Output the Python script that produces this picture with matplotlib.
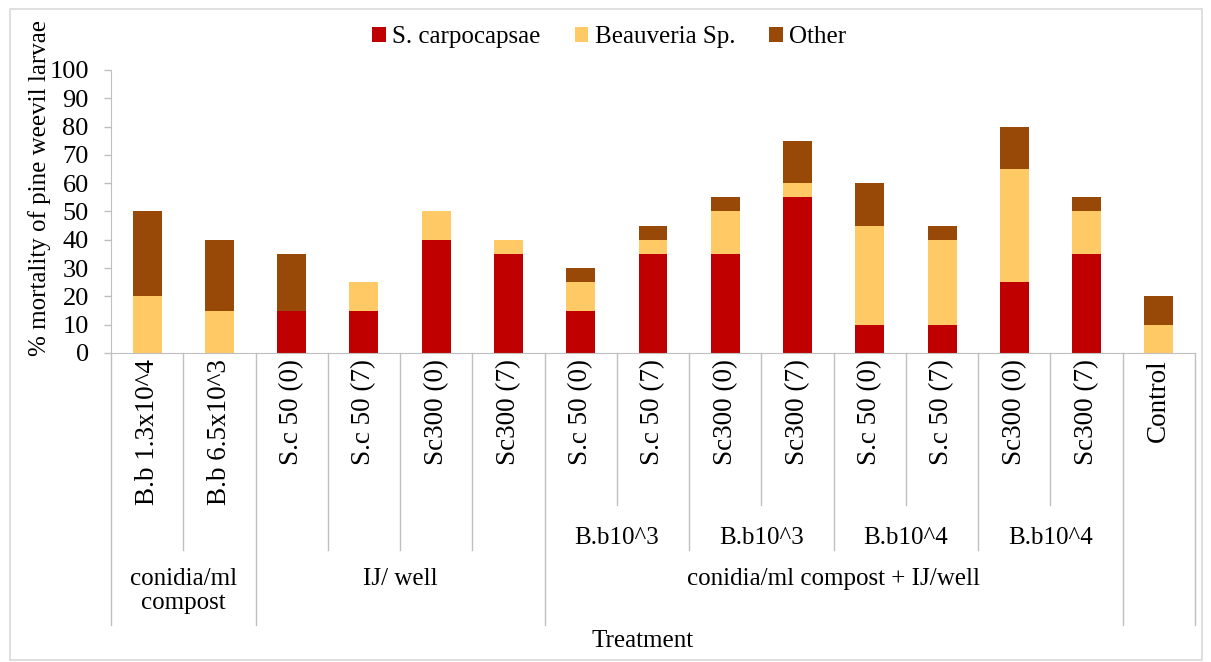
import matplotlib
matplotlib.use("Agg")
import matplotlib.pyplot as plt
from matplotlib.patches import Rectangle

# data (% mortality, stacked)
treatments = ["B.b 1.3x10^4", "B.b 6.5x10^3",
              "S.c 50 (0)", "S.c 50 (7)", "Sc300 (0)", "Sc300 (7)",
              "S.c 50 (0)", "S.c 50 (7)", "Sc300 (0)", "Sc300 (7)",
              "S.c 50 (0)", "S.c 50 (7)", "Sc300 (0)", "Sc300 (7)",
              "Control"]
carpocapsae = [0, 0, 15, 15, 40, 35, 15, 35, 35, 55, 10, 10, 25, 35, 0]
beauveria = [20, 15, 0, 10, 10, 5, 10, 5, 15, 5, 35, 30, 40, 15, 10]
other = [30, 25, 20, 0, 0, 0, 5, 5, 5, 15, 15, 5, 15, 5, 10]

# second and third label rows: (label, number of bars spanned)
sub_groups = [("", 1), ("", 1), ("", 1), ("", 1), ("", 1), ("", 1),
              ("B.b10^3", 2), ("B.b10^3", 2), ("B.b10^4", 2), ("B.b10^4", 2),
              ("", 1)]
groups = [("conidia/ml\ncompost", 2), ("IJ/ well", 4),
          ("conidia/ml compost + IJ/well", 8), ("", 1)]

series = ["S. carpocapsae", "Beauveria Sp.", "Other"]
colors = ["#C00000", "#FFC966", "#984807"]

plt.rcParams["font.family"] = ["Liberation Serif", "DejaVu Serif"]
fs = 18
fs_rot = 19.5
grey = "#BFBFBF"

W, H = 1211, 662
fig = plt.figure(figsize=(W / 100, H / 100), dpi=100)
x0, x1, y0, y1 = 111, 1195, 353, 70
ax = fig.add_axes([x0 / W, 1 - y0 / H, (x1 - x0) / W, (y0 - y1) / H])

x = list(range(len(treatments)))
bottom2 = [a + b for a, b in zip(carpocapsae, beauveria)]
ax.bar(x, carpocapsae, 0.4, color=colors[0], label=series[0])
ax.bar(x, beauveria, 0.4, bottom=carpocapsae, color=colors[1], label=series[1])
ax.bar(x, other, 0.4, bottom=bottom2, color=colors[2], label=series[2])

ax.set_xlim(-0.5, len(treatments) - 0.5)
ax.set_ylim(0, 100)
ax.set_yticks(range(0, 101, 10))
ax.tick_params(axis="y", labelsize=19, color=grey, length=5, width=1, pad=11)
ax.set_xticks([])
for s in ["top", "right"]:
    ax.spines[s].set_visible(False)
ax.spines["left"].set_color(grey)
ax.spines["bottom"].set_color(grey)
ax.set_ylabel("% mortality of pine weevil larvae", fontsize=18)
ax.yaxis.set_label_coords((51 - x0) / (x1 - x0), (353 - 188) / (y0 - y1))


def yfrac(py):
    # pixel row -> axes fraction
    return (y0 - py) / (y0 - y1)


tr = ax.get_xaxis_transform()

# level-1 labels
for i, t in enumerate(treatments):
    ax.text(i, yfrac(359), t, rotation=90, ha="center", va="top",
            fontsize=fs_rot, transform=tr, clip_on=False)

# separator depth at each boundary
n = len(treatments)
depth = {i - 0.5: 505 for i in range(n + 1)}
pos = 0
for lab, cnt in sub_groups:
    depth[pos - 0.5] = max(depth[pos - 0.5], 550)
    if lab:
        ax.text(pos + cnt / 2 - 0.5, yfrac(538), lab, ha="center", va="center",
                fontsize=fs, transform=tr, clip_on=False)
    pos += cnt
    depth[pos - 0.5] = max(depth[pos - 0.5], 550)
pos = 0
for lab, cnt in groups:
    depth[pos - 0.5] = 625
    if lab:
        ax.text(pos + cnt / 2 - 0.5, yfrac(568), lab, ha="center", va="top",
                fontsize=fs, transform=tr, clip_on=False, linespacing=1.1)
    pos += cnt
    depth[pos - 0.5] = 625

for bx, d in depth.items():
    ax.plot([bx, bx], [0, yfrac(d)], color=grey, lw=1, transform=tr,
            clip_on=False)

fig.text(643 / W, 1 - 641 / H, "Treatment", ha="center", va="center",
         fontsize=fs)

fig.legend(loc="center", bbox_to_anchor=(0.503, 1 - 37 / H), ncol=3,
           frameon=False, fontsize=fs, handlelength=0.55, handleheight=0.55,
           handletextpad=0.25, columnspacing=1.35)

fig.patches.append(Rectangle((10 / W, 2 / H), 1192 / W, 651 / H,
                             transform=fig.transFigure, fill=False,
                             edgecolor="#D9D9D9", lw=1.2))

fig.savefig("out.png", dpi=100)
